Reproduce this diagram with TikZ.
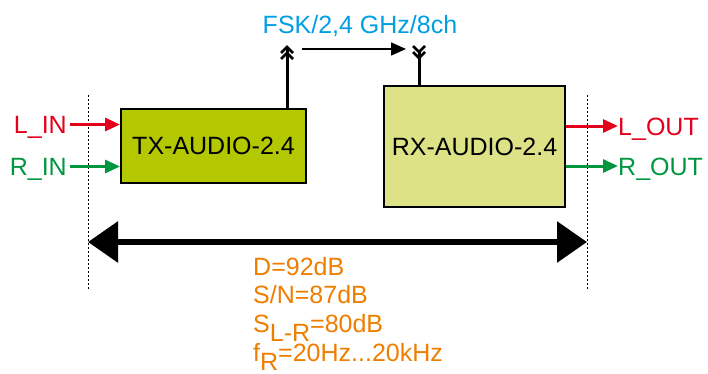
\documentclass[tikz,border=0pt]{standalone}
\usepackage{fontspec}
\setmainfont{Liberation Sans}
\usetikzlibrary{arrows.meta}
\definecolor{cred}{RGB}{226,0,26}
\definecolor{cgreen}{RGB}{0,150,64}
\definecolor{cblue}{RGB}{0,159,227}
\definecolor{corange}{RGB}{239,125,0}
\definecolor{txfill}{RGB}{179,200,0}
\definecolor{rxfill}{RGB}{221,226,134}
\newcommand{\lowsub}[1]{\raisebox{-9pt}{#1}}
\begin{document}
\begin{tikzpicture}[x=1pt,y=-1pt,
  every node/.style={font=\fontsize{25}{29}\selectfont, inner sep=0pt},
  box/.style={draw=black, line width=2pt, align=center},
  lbl/.style={text height=18pt, text depth=0pt},
  sig/.style={line width=3pt, -{Triangle[length=15pt,width=13pt]}},
  sep/.style={line width=1pt, dash pattern=on 2pt off 2pt},
  ant/.style={line width=2.5pt},
  spec/.style={text=corange, anchor=base west}]
\useasboundingbox (0,0) rectangle (708,373);

% boxes
\node[box, fill=txfill, minimum width=185pt, minimum height=74pt] (tx) at (213.5,146) {TX-AUDIO-2.4};
\node[box, fill=rxfill, minimum width=181pt, minimum height=121pt] (rx) at (474.5,146.5) {RX-AUDIO-2.4};

% separators
\coordinate (slt) at (88,95);
\coordinate (slb) at (88,290);
\coordinate (srt) at (587,95);
\coordinate (srb) at (587,290);
\draw[sep] (slt) -- (slb);
\draw[sep] (srt) -- (srb);

% inputs
\node[lbl, text=cred, anchor=east] (lin) at (67,124.5) {L\_IN};
\node[lbl, text=cgreen, anchor=east] (rin) at (67,166.5) {R\_IN};
\draw[sig, cred] ([xshift=3pt]lin.east) -- (lin.east -| tx.west);
\draw[sig, cgreen] ([xshift=3pt]rin.east) -- (rin.east -| tx.west);

% outputs
\node[lbl, text=cred, anchor=west] (lout) at (618,126) {L\_OUT};
\node[lbl, text=cgreen, anchor=west] (rout) at (618,166) {R\_OUT};
\draw[sig, cred] (lout.west -| rx.east) -- (lout.west);
\draw[sig, cgreen] (rout.west -| rx.east) -- (rout.west);

% antennas
\coordinate (ta) at (287,49);
\coordinate (ra) at (419,50);
\draw[line width=3pt] (ta) -- (ta |- tx.north);
\draw[ant] (281,53) -- (287,47) -- (293,53);
\draw[ant] (281,59) -- (287,53) -- (293,59);
\draw[line width=3pt] (ra) -- (ra |- rx.north);
\draw[ant] (413,46) -- (419,52) -- (425,46);
\draw[ant] (413,52) -- (419,58) -- (425,52);

\coordinate (rfa) at (302,49);
\coordinate (rfb) at (406,49);
\draw[line width=1.5pt, -{Triangle[length=15pt,width=13pt]}] (rfa) -- (rfb);
\node[text=cblue, anchor=base] (rf) at (360,33) {FSK/2,4 GHz/8ch};

% range arrow
\draw[line width=6pt, {Triangle[length=30pt,width=40pt]}-{Triangle[length=30pt,width=40pt]}] (slt |- 0,242) -- (srt |- 0,242);

% specs
\node[spec] (s1) at (253,275) {D=92dB};
\node[spec] (s2) at (253,303) {S/N=87dB};
\node[spec] (s3) at (253,332) {S\lowsub{L-R}=80dB};
\node[spec] (s4) at (253,361) {f\lowsub{R}=20Hz...20kHz};
\end{tikzpicture}
\end{document}
